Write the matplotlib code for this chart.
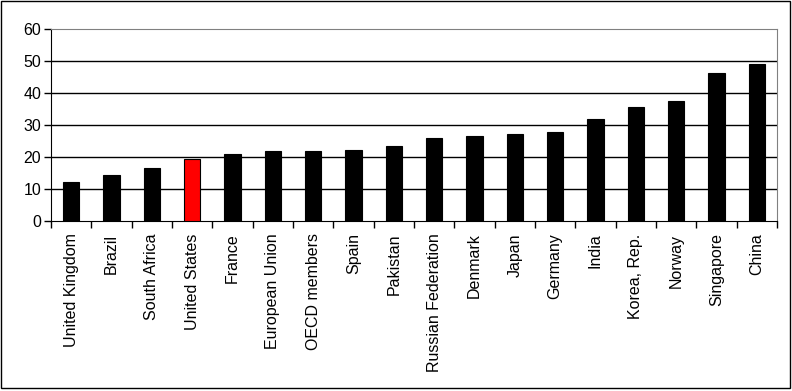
import matplotlib.pyplot as plt
import numpy as np
from matplotlib.patches import Rectangle

countries = ["United Kingdom", "Brazil", "South Africa", "United States", "France",
             "European Union", "OECD members", "Spain", "Pakistan", "Russian Federation",
             "Denmark", "Japan", "Germany", "India", "Korea, Rep.", "Norway",
             "Singapore", "China"]
values = [12.2, 14.4, 16.6, 19.3, 20.9, 21.8, 21.8, 22.2, 23.3, 26.0,
          26.5, 27.2, 27.8, 31.9, 35.6, 37.5, 46.2, 49.1]
highlight = "United States"

plt.rcParams["font.family"] = ["Liberation Sans", "DejaVu Sans"]

fig = plt.figure(figsize=(7.92, 3.91), dpi=100)
ax = fig.add_axes([51/792, 1-221/391, (777-51)/792, (221-29)/391])

x = np.arange(len(countries))
colors = ["#ff0000" if c == highlight else "black" for c in countries]
ax.bar(x, values, width=0.4, color=colors, edgecolor="black", linewidth=0.8, zorder=3)

ax.set_xlim(-0.5, len(countries) - 0.5)
ax.set_ylim(0, 60)
ax.set_yticks(range(0, 61, 10))
ax.tick_params(axis="y", labelsize=11.5, length=5, width=1, direction="out", pad=2)
for yv in range(10, 60, 10):
    ax.axhline(yv, color="black", linewidth=1, zorder=1)

ax.set_xticks(x)
ax.set_xticklabels(countries, rotation=90, fontsize=11.5, va="top")
ax.tick_params(axis="x", length=0, pad=9)
ax.set_xticks(np.arange(-0.5, len(countries), 1), minor=True)
ax.tick_params(axis="x", which="minor", length=5, width=1, direction="out")

for side in ["top", "right"]:
    ax.spines[side].set_color("#808080")
for side in ["left", "bottom"]:
    ax.spines[side].set_color("black")

fig.patches.append(Rectangle((1/792, 1-388/391), 789/792, 387/391, transform=fig.transFigure,
                             fill=False, edgecolor="black", linewidth=1))

fig.savefig("out.png", dpi=100)
